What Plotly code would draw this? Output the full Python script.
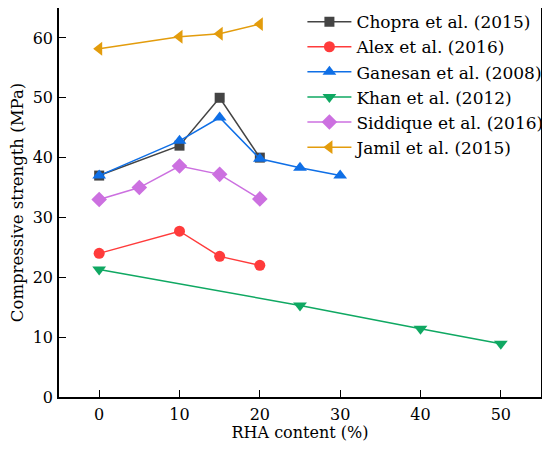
import plotly.graph_objects as go

# RHA content (%) and compressive strength (MPa) per study
chopra_x = [0, 10, 15, 20]
chopra_y = [37.0, 42.0, 50.0, 40.0]
alex_x = [0, 10, 15, 20]
alex_y = [24.0, 27.7, 23.5, 22.0]
ganesan_x = [0, 10, 15, 20, 25, 30]
ganesan_y = [37.0, 42.8, 46.7, 39.8, 38.3, 37.0]
khan_x = [0, 25, 40, 50]
khan_y = [21.3, 15.3, 11.4, 8.9]
siddique_x = [0, 5, 10, 15, 20]
siddique_y = [33.0, 35.0, 38.6, 37.2, 33.1]
jamil_x = [0, 10, 15, 20]
jamil_y = [58.2, 60.2, 60.7, 62.3]

series = [
    ("Chopra et al. (2015)", chopra_x, chopra_y, "#444444", "square", 10),
    ("Alex et al. (2016)", alex_x, alex_y, "#ff3b3b", "circle", 11),
    ("Ganesan et al. (2008)", ganesan_x, ganesan_y, "#0f6fe6", "triangle-up", 12),
    ("Khan et al. (2012)", khan_x, khan_y, "#0fa862", "triangle-down", 12),
    ("Siddique et al. (2016)", siddique_x, siddique_y, "#cc70e0", "diamond", 12),
    ("Jamil et al. (2015)", jamil_x, jamil_y, "#e39c0c", "triangle-left", 12),
]

fig = go.Figure()
for i, (name, x, y, col, sym, sz) in enumerate(series):
    fig.add_trace(go.Scatter(
        x=x, y=y, name=name, mode="lines+markers",
        line=dict(color=col, width=1.5),
        marker=dict(symbol=sym, size=sz, color=col),
        legendgroup="g%d" % i,
    ))

# Liberation Serif is not picked up, DejaVu Serif is the serif we get
font = "DejaVu Serif"
axis_common = dict(
    showline=True, linecolor="black", linewidth=1.6, mirror=True,
    ticks="inside", ticklen=7, tickwidth=1.3, tickcolor="black",
    showgrid=False, zeroline=False,
    tickfont=dict(family=font, size=16, color="black"),
)

# the page body has an 8px margin, so the figure is a bit smaller than the window
fig.update_layout(
    width=534, height=434,
    margin=dict(l=51, r=1, t=0, b=45, autoexpand=False),
    paper_bgcolor="white", plot_bgcolor="white",
    font=dict(family=font, size=16, color="black"),
    xaxis=dict(range=[-5, 55], dtick=10, ticklabelstandoff=2,
               title=dict(text="RHA content (%)", standoff=3,
                          font=dict(family=font, size=16)),
               **axis_common),
    yaxis=dict(range=[0, 65], dtick=10, ticklabelstandoff=1,
               title=dict(text="Compressive strength (MPa)", standoff=6,
                          font=dict(family=font, size=16.5)),
               **axis_common),
    legend=dict(x=0.505, y=1.01, xanchor="left", yanchor="top",
                bgcolor="rgba(0,0,0,0)", borderwidth=0,
                font=dict(family=font, size=17),
                itemwidth=44, tracegroupgap=0),
    showlegend=True,
)

fig.write_html("out.html")
